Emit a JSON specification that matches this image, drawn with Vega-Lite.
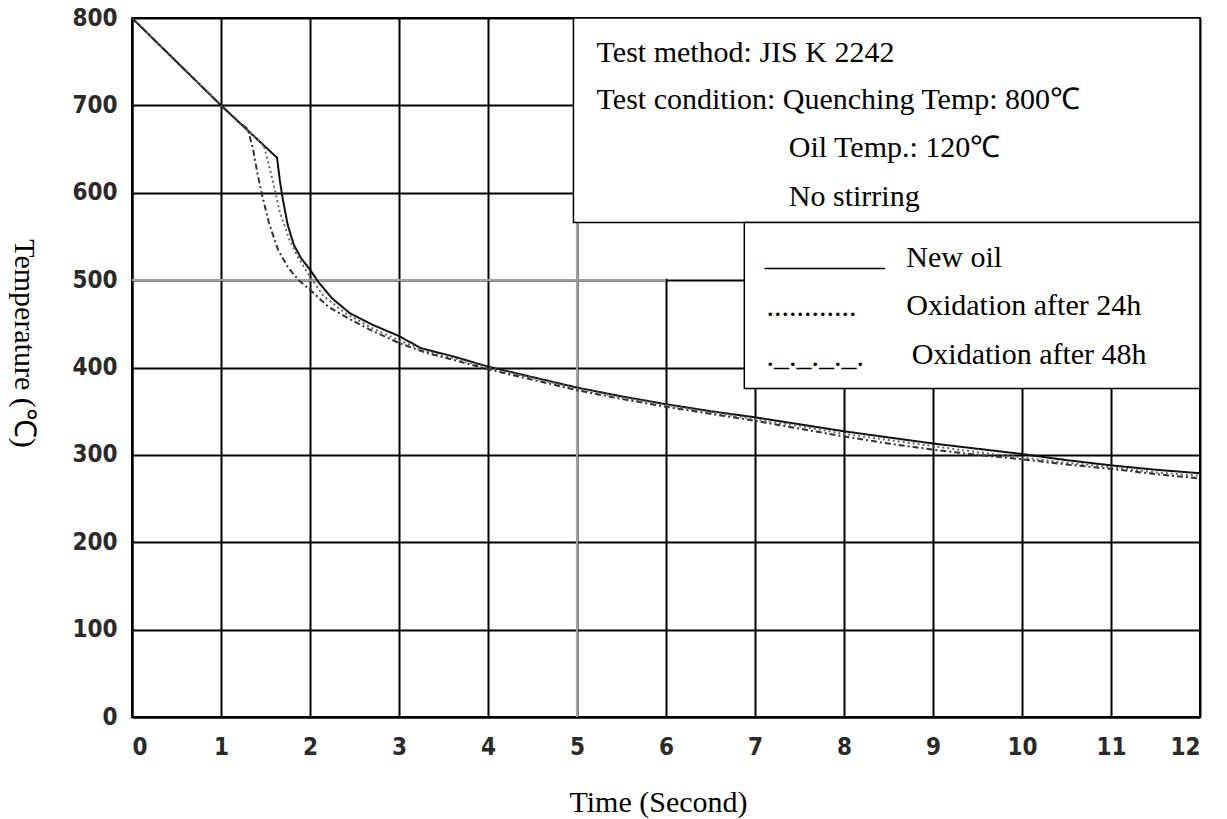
{
  "$schema": "https://vega.github.io/schema/vega-lite/v6.json",
  "description": "Cooling curves of quenching oil, JIS K 2242.",
  "background": "white",
  "autosize": "none",
  "width": 1068,
  "height": 699,
  "padding": {"left": 132, "top": 18, "right": 27, "bottom": 102},
  "config": {
    "view": {"stroke": "black", "strokeWidth": 2},
    "axis": {
      "grid": true,
      "gridColor": "black",
      "gridWidth": 2,
      "gridOpacity": 1,
      "domainColor": "black",
      "domainWidth": 2,
      "ticks": false,
      "labelFont": "Liberation Sans Narrow, DejaVu Sans Condensed, Roboto Condensed, Liberation Sans, sans-serif",
      "labelFontSize": 24,
      "labelFontWeight": "bold",
      "labelColor": "#2a2a2a",
      "titleFont": "Liberation Serif",
      "titleFontSize": 30,
      "titleFontWeight": "normal",
      "titleColor": "black"
    }
  },
  "datasets": {
    "curves": [
      {"x": 0, "y": 800, "oil": "New oil"},
      {"x": 1, "y": 700, "oil": "New oil"},
      {"x": 1.63, "y": 640, "oil": "New oil"},
      {"x": 1.66, "y": 615, "oil": "New oil"},
      {"x": 1.69, "y": 595, "oil": "New oil"},
      {"x": 1.75, "y": 563, "oil": "New oil"},
      {"x": 1.82, "y": 540, "oil": "New oil"},
      {"x": 1.9, "y": 525, "oil": "New oil"},
      {"x": 2.0, "y": 512, "oil": "New oil"},
      {"x": 2.1, "y": 497, "oil": "New oil"},
      {"x": 2.25, "y": 479, "oil": "New oil"},
      {"x": 2.45, "y": 462, "oil": "New oil"},
      {"x": 2.7, "y": 449, "oil": "New oil"},
      {"x": 3.0, "y": 436, "oil": "New oil"},
      {"x": 3.25, "y": 422, "oil": "New oil"},
      {"x": 3.6, "y": 413, "oil": "New oil"},
      {"x": 4.0, "y": 401, "oil": "New oil"},
      {"x": 4.5, "y": 389, "oil": "New oil"},
      {"x": 5.0, "y": 377, "oil": "New oil"},
      {"x": 5.5, "y": 367, "oil": "New oil"},
      {"x": 6.0, "y": 358, "oil": "New oil"},
      {"x": 6.5, "y": 350, "oil": "New oil"},
      {"x": 7.0, "y": 343, "oil": "New oil"},
      {"x": 7.5, "y": 335, "oil": "New oil"},
      {"x": 8.0, "y": 327, "oil": "New oil"},
      {"x": 8.5, "y": 320, "oil": "New oil"},
      {"x": 9.0, "y": 313, "oil": "New oil"},
      {"x": 9.5, "y": 307, "oil": "New oil"},
      {"x": 10.0, "y": 301, "oil": "New oil"},
      {"x": 10.5, "y": 294, "oil": "New oil"},
      {"x": 11.0, "y": 288, "oil": "New oil"},
      {"x": 11.5, "y": 283, "oil": "New oil"},
      {"x": 12.0, "y": 279, "oil": "New oil"},
      {"x": 0, "y": 800, "oil": "Oxidation after 24h"},
      {"x": 1, "y": 700, "oil": "Oxidation after 24h"},
      {"x": 1.3, "y": 671, "oil": "Oxidation after 24h"},
      {"x": 1.48, "y": 655, "oil": "Oxidation after 24h"},
      {"x": 1.53, "y": 635, "oil": "Oxidation after 24h"},
      {"x": 1.58, "y": 614, "oil": "Oxidation after 24h"},
      {"x": 1.66, "y": 578, "oil": "Oxidation after 24h"},
      {"x": 1.77, "y": 546, "oil": "Oxidation after 24h"},
      {"x": 1.87, "y": 525, "oil": "Oxidation after 24h"},
      {"x": 2.0, "y": 504, "oil": "Oxidation after 24h"},
      {"x": 2.15, "y": 482, "oil": "Oxidation after 24h"},
      {"x": 2.4, "y": 462, "oil": "Oxidation after 24h"},
      {"x": 2.7, "y": 445, "oil": "Oxidation after 24h"},
      {"x": 3.0, "y": 431, "oil": "Oxidation after 24h"},
      {"x": 3.3, "y": 419, "oil": "Oxidation after 24h"},
      {"x": 3.6, "y": 411, "oil": "Oxidation after 24h"},
      {"x": 4.0, "y": 400, "oil": "Oxidation after 24h"},
      {"x": 4.5, "y": 388, "oil": "Oxidation after 24h"},
      {"x": 5.0, "y": 376, "oil": "Oxidation after 24h"},
      {"x": 5.5, "y": 366, "oil": "Oxidation after 24h"},
      {"x": 6.0, "y": 357, "oil": "Oxidation after 24h"},
      {"x": 6.5, "y": 349, "oil": "Oxidation after 24h"},
      {"x": 7.0, "y": 341, "oil": "Oxidation after 24h"},
      {"x": 7.5, "y": 333, "oil": "Oxidation after 24h"},
      {"x": 8.0, "y": 324, "oil": "Oxidation after 24h"},
      {"x": 8.5, "y": 317, "oil": "Oxidation after 24h"},
      {"x": 9.0, "y": 310, "oil": "Oxidation after 24h"},
      {"x": 9.5, "y": 303, "oil": "Oxidation after 24h"},
      {"x": 10.0, "y": 297, "oil": "Oxidation after 24h"},
      {"x": 10.5, "y": 291, "oil": "Oxidation after 24h"},
      {"x": 11.0, "y": 286, "oil": "Oxidation after 24h"},
      {"x": 11.5, "y": 280, "oil": "Oxidation after 24h"},
      {"x": 12.0, "y": 276, "oil": "Oxidation after 24h"},
      {"x": 0, "y": 800, "oil": "Oxidation after 48h"},
      {"x": 1, "y": 700, "oil": "Oxidation after 48h"},
      {"x": 1.2, "y": 681, "oil": "Oxidation after 48h"},
      {"x": 1.3, "y": 673, "oil": "Oxidation after 48h"},
      {"x": 1.36, "y": 650, "oil": "Oxidation after 48h"},
      {"x": 1.41, "y": 622, "oil": "Oxidation after 48h"},
      {"x": 1.46, "y": 598, "oil": "Oxidation after 48h"},
      {"x": 1.54, "y": 565, "oil": "Oxidation after 48h"},
      {"x": 1.64, "y": 535, "oil": "Oxidation after 48h"},
      {"x": 1.75, "y": 515, "oil": "Oxidation after 48h"},
      {"x": 1.87, "y": 500, "oil": "Oxidation after 48h"},
      {"x": 2.0, "y": 489, "oil": "Oxidation after 48h"},
      {"x": 2.2, "y": 470, "oil": "Oxidation after 48h"},
      {"x": 2.45, "y": 455, "oil": "Oxidation after 48h"},
      {"x": 2.7, "y": 442, "oil": "Oxidation after 48h"},
      {"x": 3.0, "y": 428, "oil": "Oxidation after 48h"},
      {"x": 3.3, "y": 417, "oil": "Oxidation after 48h"},
      {"x": 3.6, "y": 409, "oil": "Oxidation after 48h"},
      {"x": 4.0, "y": 398, "oil": "Oxidation after 48h"},
      {"x": 4.5, "y": 386, "oil": "Oxidation after 48h"},
      {"x": 5.0, "y": 374, "oil": "Oxidation after 48h"},
      {"x": 5.5, "y": 364, "oil": "Oxidation after 48h"},
      {"x": 6.0, "y": 355, "oil": "Oxidation after 48h"},
      {"x": 6.5, "y": 347, "oil": "Oxidation after 48h"},
      {"x": 7.0, "y": 339, "oil": "Oxidation after 48h"},
      {"x": 7.5, "y": 330, "oil": "Oxidation after 48h"},
      {"x": 8.0, "y": 321, "oil": "Oxidation after 48h"},
      {"x": 8.5, "y": 313, "oil": "Oxidation after 48h"},
      {"x": 9.0, "y": 306, "oil": "Oxidation after 48h"},
      {"x": 9.5, "y": 300, "oil": "Oxidation after 48h"},
      {"x": 10.0, "y": 295, "oil": "Oxidation after 48h"},
      {"x": 10.5, "y": 289, "oil": "Oxidation after 48h"},
      {"x": 11.0, "y": 284, "oil": "Oxidation after 48h"},
      {"x": 11.5, "y": 278, "oil": "Oxidation after 48h"},
      {"x": 12.0, "y": 273, "oil": "Oxidation after 48h"}
    ],
    "patch": [
      {"x": 5.03, "x2": 6.88, "y": 501.5, "y2": 566}
    ],
    "faint": [
      {"x": 5, "x2": 5, "y": 0, "y2": 566},
      {"x": 0, "x2": 6, "y": 500, "y2": 500}
    ],
    "boxes": [
      {"x": 4.96, "x2": 12, "y": 800, "y2": 566},
      {"x": 6.88, "x2": 12, "y": 566, "y2": 376}
    ],
    "notes": [
      {"x": 5.22, "y": 760, "label": "Test method: JIS K 2242"},
      {"x": 5.22, "y": 706, "label": "Test condition: Quenching Temp: 800℃"},
      {"x": 7.38, "y": 651, "label": "Oil Temp.: 120℃"},
      {"x": 7.38, "y": 595, "label": "No stirring"},
      {"x": 7.11, "y": 527, "label": "________"},
      {"x": 8.7, "y": 525, "label": "New oil"},
      {"x": 7.13, "y": 469, "label": "............"},
      {"x": 8.7, "y": 470, "label": "Oxidation after 24h"},
      {"x": 7.13, "y": 412, "label": "._._._._."},
      {"x": 8.76, "y": 414, "label": "Oxidation after 48h"}
    ]
  },
  "encoding": {
    "x": {
      "field": "x",
      "type": "quantitative",
      "scale": {"domain": [0, 12], "nice": false, "zero": false},
      "axis": {
        "title": "Time (Second)",
        "values": [0, 1, 2, 3, 4, 5, 6, 7, 8, 9, 10, 11, 12],
        "format": "d",
        "labelPadding": 18,
        "labelDx": 4,
        "titleX": 526,
        "titleY": 85,
        "titleAlign": "center",
        "titleBaseline": "middle"
      }
    },
    "y": {
      "field": "y",
      "type": "quantitative",
      "scale": {"domain": [0, 800], "nice": false},
      "axis": {
        "title": "Temperature (℃)",
        "values": [0, 100, 200, 300, 400, 500, 600, 700, 800],
        "format": "d",
        "labelPadding": 15,
        "titleAngle": 90,
        "titleX": -109,
        "titleY": 325,
        "titleAlign": "center",
        "titleBaseline": "middle"
      }
    }
  },
  "layer": [
    {
      "data": {"name": "patch"},
      "mark": {"type": "rect", "fill": "white", "strokeWidth": 0},
      "encoding": {"x2": {"field": "x2"}, "y2": {"field": "y2"}}
    },
    {
      "data": {"name": "faint"},
      "mark": {"type": "rule", "color": "#a0a0a0", "strokeWidth": 2.2},
      "encoding": {"x2": {"field": "x2"}, "y2": {"field": "y2"}}
    },
    {
      "data": {"name": "curves"},
      "mark": {"type": "line", "strokeWidth": 2},
      "encoding": {
        "color": {
          "field": "oil",
          "type": "nominal",
          "scale": {"domain": ["New oil", "Oxidation after 24h", "Oxidation after 48h"], "range": ["#111111", "#666666", "#333333"]},
          "legend": null
        },
        "strokeDash": {
          "field": "oil",
          "type": "nominal",
          "scale": {"domain": ["New oil", "Oxidation after 24h", "Oxidation after 48h"], "range": [[1, 0], [2, 3], [6, 3, 2, 3]]},
          "legend": null
        }
      }
    },
    {
      "data": {"name": "boxes"},
      "mark": {"type": "rect", "fill": "white", "stroke": "black", "strokeWidth": 1.5},
      "encoding": {"x2": {"field": "x2"}, "y2": {"field": "y2"}}
    },
    {
      "data": {"name": "notes"},
      "mark": {"type": "text", "align": "left", "baseline": "middle", "font": "Liberation Serif", "fontSize": 30, "color": "black"},
      "encoding": {"text": {"field": "label"}}
    }
  ]
}
